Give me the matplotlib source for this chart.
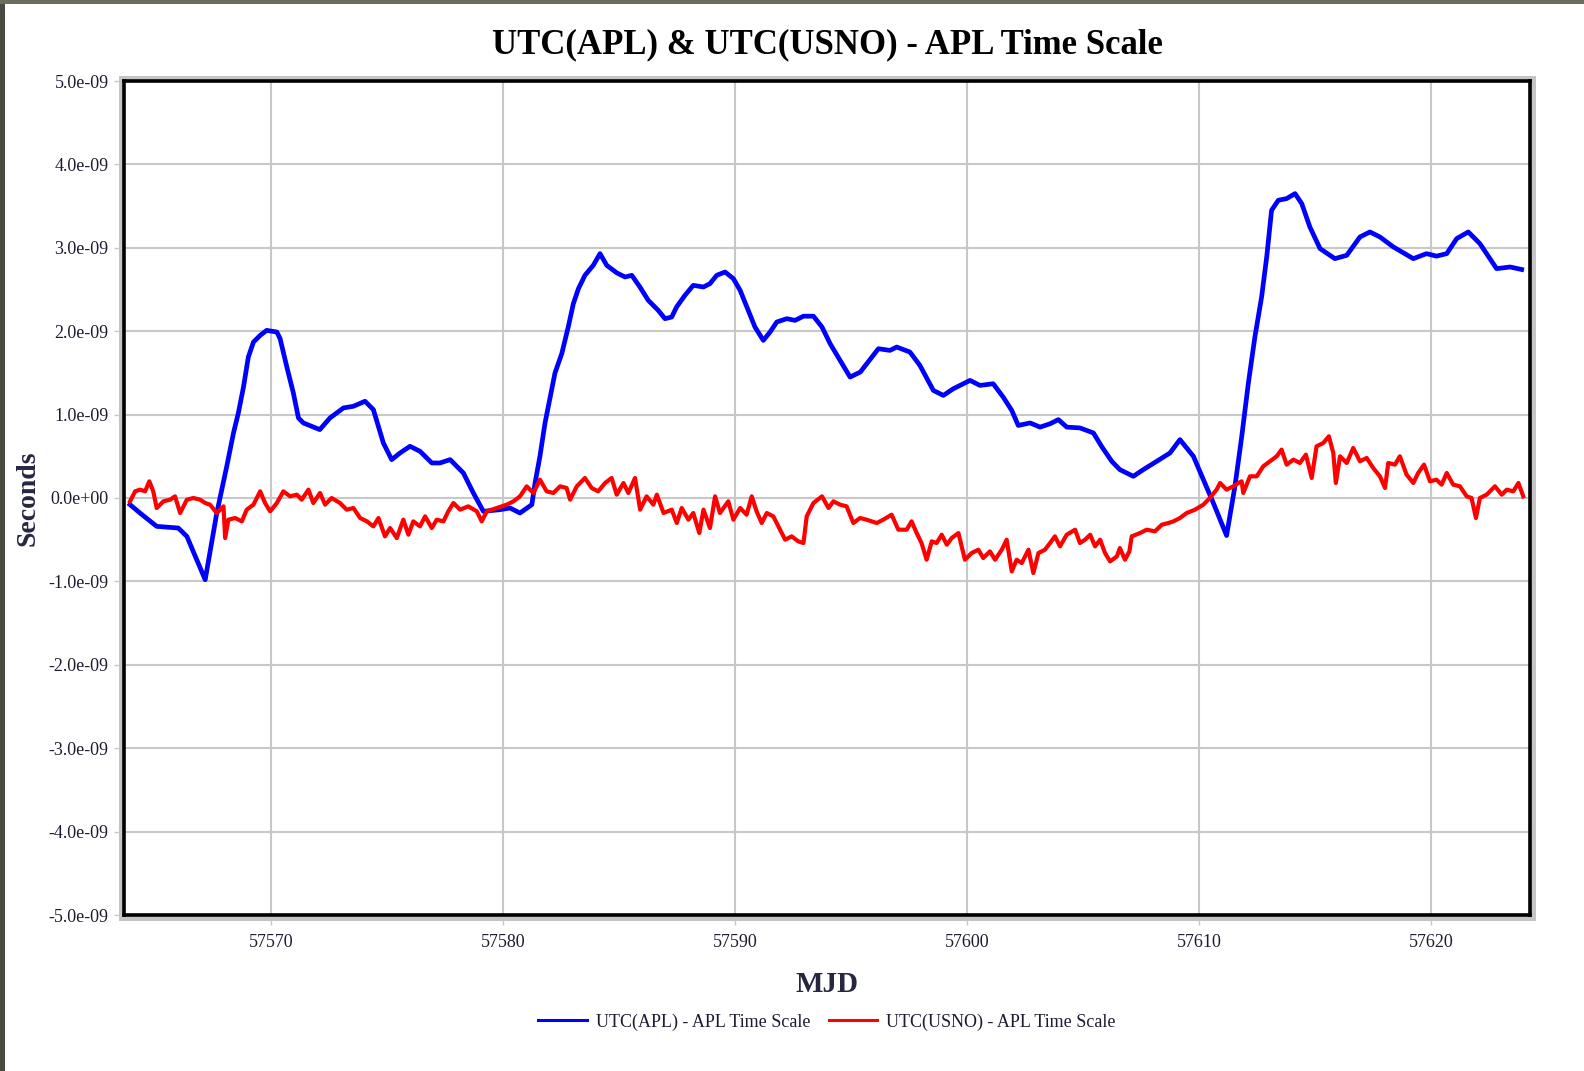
import numpy as np
import matplotlib
matplotlib.use('Agg')
import matplotlib.pyplot as plt
from matplotlib.patches import Rectangle
from matplotlib.ticker import FuncFormatter

## DATA (values in ns, x in MJD)
apl_mjd = [57563.92, 57564.35, 57565.07, 57566.0, 57566.37, 57567.16, 57567.66, 57568.09,
           57568.38, 57568.59, 57568.81, 57569.02, 57569.24, 57569.53, 57569.81, 57570.25,
           57570.39, 57570.68, 57570.96, 57571.18, 57571.39, 57572.1, 57572.54, 57573.12,
           57573.55, 57574.05, 57574.41, 57574.84, 57575.2, 57575.56, 57575.99, 57576.42,
           57576.93, 57577.28, 57577.72, 57578.29, 57578.72, 57579.15, 57579.87, 57580.3,
           57580.73, 57581.24, 57581.38, 57581.59, 57581.81, 57582.03, 57582.24, 57582.53,
           57582.81, 57583.03, 57583.25, 57583.53, 57583.89, 57584.18, 57584.47, 57584.9,
           57585.26, 57585.55, 57585.9, 57586.26, 57586.69, 57586.98, 57587.27, 57587.48,
           57587.84, 57588.2, 57588.64, 57588.92, 57589.21, 57589.57, 57589.93, 57590.22,
           57590.57, 57590.86, 57591.22, 57591.51, 57591.8, 57592.23, 57592.59, 57592.95,
           57593.38, 57593.75, 57594.1, 57594.53, 57594.96, 57595.4, 57595.68, 57596.18,
           57596.68, 57596.97, 57597.54, 57597.97, 57598.55, 57598.98, 57599.41, 57600.13,
           57600.56, 57601.13, 57601.56, 57601.93, 57602.21, 57602.72, 57603.15, 57603.58,
           57603.94, 57604.3, 57604.87, 57605.45, 57605.8, 57606.24, 57606.59, 57607.17,
           57607.6, 57608.18, 57608.75, 57609.18, 57609.76, 57610.19, 57610.62, 57611.19,
           57611.55, 57611.84, 57612.13, 57612.41, 57612.7, 57612.92, 57613.13, 57613.42,
           57613.78, 57614.14, 57614.43, 57614.78, 57615.22, 57615.86, 57616.37, 57616.94,
           57617.37, 57617.8, 57618.38, 57619.24, 57619.81, 57620.24, 57620.68, 57621.11,
           57621.61, 57622.11, 57622.83, 57623.41, 57623.91]
apl_ns = [-0.08, -0.18, -0.34, -0.36, -0.46, -0.98, -0.18, 0.38,
          0.78, 1.02, 1.33, 1.69, 1.87, 1.95, 2.01, 1.99,
          1.91, 1.57, 1.26, 0.96, 0.90, 0.82, 0.96, 1.08,
          1.10, 1.16, 1.06, 0.66, 0.46, 0.54, 0.62, 0.56,
          0.42, 0.42, 0.46, 0.30, 0.06, -0.16, -0.14, -0.12,
          -0.18, -0.08, 0.18, 0.50, 0.90, 1.21, 1.50, 1.73,
          2.05, 2.33, 2.51, 2.67, 2.79, 2.93, 2.79, 2.70,
          2.65, 2.67, 2.53, 2.37, 2.25, 2.15, 2.17, 2.29,
          2.43, 2.55, 2.53, 2.57, 2.67, 2.71, 2.63, 2.49,
          2.25, 2.05, 1.89, 1.99, 2.11, 2.15, 2.13, 2.18,
          2.18, 2.05, 1.85, 1.65, 1.45, 1.51, 1.61, 1.79,
          1.77, 1.81, 1.75, 1.59, 1.29, 1.23, 1.31, 1.41,
          1.35, 1.37, 1.21, 1.05, 0.87, 0.90, 0.85, 0.89,
          0.94, 0.85, 0.84, 0.78, 0.62, 0.44, 0.34, 0.26,
          0.34, 0.44, 0.54, 0.70, 0.50, 0.22, -0.06, -0.45,
          0.14, 0.73, 1.38, 1.93, 2.41, 2.89, 3.45, 3.57,
          3.59, 3.65, 3.53, 3.25, 2.99, 2.87, 2.91, 3.13,
          3.19, 3.13, 3.01, 2.87, 2.93, 2.90, 2.93, 3.11,
          3.19, 3.05, 2.75, 2.77, 2.74]

usno_mjd = [57563.92, 57564.14, 57564.35, 57564.57, 57564.75, 57564.92, 57565.07, 57565.36,
            57565.65, 57565.86, 57566.08, 57566.37, 57566.65, 57566.94, 57567.16, 57567.37,
            57567.66, 57567.95, 57568.02, 57568.16, 57568.45, 57568.74, 57568.95, 57569.24,
            57569.53, 57569.74, 57569.96, 57570.25, 57570.53, 57570.82, 57571.11, 57571.32,
            57571.61, 57571.82, 57572.11, 57572.33, 57572.61, 57572.97, 57573.26, 57573.55,
            57573.84, 57574.13, 57574.41, 57574.63, 57574.91, 57575.13, 57575.42, 57575.7,
            57575.92, 57576.13, 57576.42, 57576.64, 57576.93, 57577.14, 57577.43, 57577.64,
            57577.86, 57578.15, 57578.5, 57578.87, 57579.08, 57579.3, 57579.73, 57580.16,
            57580.45, 57580.73, 57581.02, 57581.31, 57581.59, 57581.88, 57582.17, 57582.46,
            57582.74, 57582.89, 57583.18, 57583.53, 57583.82, 57584.1, 57584.4, 57584.68,
            57584.9, 57585.19, 57585.4, 57585.69, 57585.91, 57586.19, 57586.48, 57586.63,
            57586.92, 57587.27, 57587.49, 57587.7, 57587.99, 57588.2, 57588.46, 57588.64,
            57588.92, 57589.14, 57589.35, 57589.71, 57589.93, 57590.22, 57590.5, 57590.72,
            57590.93, 57591.15, 57591.37, 57591.65, 57591.94, 57592.16, 57592.44, 57592.73,
            57592.95, 57593.09, 57593.38, 57593.75, 57594.03, 57594.24, 57594.53, 57594.81,
            57595.1, 57595.39, 57595.67, 57596.11, 57596.39, 57596.75, 57597.04, 57597.4,
            57597.61, 57597.83, 57598.04, 57598.26, 57598.48, 57598.69, 57598.91, 57599.13,
            57599.34, 57599.63, 57599.91, 57600.2, 57600.49, 57600.7, 57600.99, 57601.21,
            57601.5, 57601.71, 57601.93, 57602.14, 57602.36, 57602.65, 57602.86, 57603.08,
            57603.36, 57603.58, 57603.79, 57604.01, 57604.3, 57604.66, 57604.87, 57605.09,
            57605.31, 57605.52, 57605.74, 57605.95, 57606.17, 57606.46, 57606.59, 57606.81,
            57607.0, 57607.1, 57607.46, 57607.75, 57608.1, 57608.4, 57608.68, 57608.9,
            57609.18, 57609.47, 57609.83, 57610.19, 57610.47, 57610.76, 57610.91, 57611.19,
            57611.48, 57611.7, 57611.84, 57611.91, 57612.2, 57612.49, 57612.77, 57613.06,
            57613.35, 57613.56, 57613.78, 57614.07, 57614.35, 57614.61, 57614.86, 57615.07,
            57615.36, 57615.6, 57615.79, 57615.9, 57616.08, 57616.37, 57616.65, 57616.94,
            57617.23, 57617.51, 57617.8, 57618.02, 57618.16, 57618.45, 57618.66, 57618.95,
            57619.24, 57619.45, 57619.7, 57619.96, 57620.24, 57620.46, 57620.68, 57620.96,
            57621.25, 57621.54, 57621.75, 57621.94, 57622.11, 57622.4, 57622.76, 57623.05,
            57623.27, 57623.55, 57623.77, 57623.98]
usno_ns = [-0.04, 0.08, 0.10, 0.08, 0.20, 0.08, -0.12, -0.04,
           -0.02, 0.02, -0.18, -0.02, 0.00, -0.02, -0.06, -0.08,
           -0.18, -0.10, -0.48, -0.26, -0.24, -0.28, -0.14, -0.08,
           0.08, -0.06, -0.16, -0.06, 0.08, 0.02, 0.04, -0.02,
           0.10, -0.06, 0.06, -0.08, 0.00, -0.06, -0.14, -0.12,
           -0.24, -0.28, -0.34, -0.24, -0.46, -0.36, -0.48, -0.26,
           -0.44, -0.28, -0.34, -0.22, -0.36, -0.26, -0.28, -0.16,
           -0.06, -0.14, -0.10, -0.16, -0.28, -0.16, -0.12, -0.08,
           -0.04, 0.02, 0.14, 0.06, 0.22, 0.08, 0.06, 0.14,
           0.12, -0.02, 0.14, 0.24, 0.12, 0.08, 0.18, 0.24,
           0.04, 0.18, 0.06, 0.24, -0.14, 0.02, -0.08, 0.04,
           -0.18, -0.14, -0.30, -0.12, -0.26, -0.18, -0.42, -0.14,
           -0.36, 0.02, -0.18, -0.04, -0.26, -0.12, -0.20, 0.02,
           -0.16, -0.30, -0.18, -0.22, -0.38, -0.50, -0.46, -0.52,
           -0.54, -0.22, -0.06, 0.02, -0.12, -0.04, -0.08, -0.10,
           -0.30, -0.24, -0.26, -0.30, -0.26, -0.20, -0.38, -0.38,
           -0.28, -0.42, -0.54, -0.74, -0.52, -0.54, -0.44, -0.56,
           -0.48, -0.42, -0.74, -0.66, -0.62, -0.72, -0.64, -0.74,
           -0.62, -0.50, -0.88, -0.74, -0.78, -0.62, -0.90, -0.66,
           -0.62, -0.54, -0.46, -0.58, -0.44, -0.38, -0.54, -0.50,
           -0.44, -0.58, -0.50, -0.66, -0.76, -0.70, -0.60, -0.74,
           -0.64, -0.46, -0.42, -0.38, -0.40, -0.32, -0.30, -0.28,
           -0.24, -0.18, -0.14, -0.08, 0.00, 0.10, 0.18, 0.10,
           0.14, 0.18, 0.20, 0.06, 0.26, 0.26, 0.38, 0.44,
           0.50, 0.58, 0.40, 0.46, 0.42, 0.52, 0.24, 0.62,
           0.66, 0.74, 0.54, 0.18, 0.50, 0.42, 0.60, 0.44,
           0.48, 0.36, 0.26, 0.12, 0.42, 0.40, 0.50, 0.28,
           0.18, 0.30, 0.40, 0.20, 0.22, 0.16, 0.30, 0.16,
           0.14, 0.02, 0.00, -0.24, 0.00, 0.04, 0.14, 0.04,
           0.10, 0.08, 0.18, 0.02]

y_ticks_ns = [-5, -4, -3, -2, -1, 0, 1, 2, 3, 4, 5]
x_ticks = [57570, 57580, 57590, 57600, 57610, 57620]

## FIGURE
W, H = 1584, 1071
fig = plt.figure(figsize=(W / 100, H / 100), dpi=100)
fig.patch.set_facecolor('white')

# axes box in pixels: left 124, right 1530, top 81, bottom 915
L, R, T, B = 124, 1530, 81, 915
ax = fig.add_axes([L / W, 1 - B / H, (R - L) / W, (B - T) / H])
ax.set_zorder(2)

# gray frame behind the black border
fig.patches.append(Rectangle(((L - 5) / W, 1 - (B + 6) / H), (R - L + 11) / W, (B - T + 11) / H,
                             transform=fig.transFigure, facecolor='#c4c4c4', edgecolor='none', zorder=0))
# dark strips at the left and top of the screenshot
fig.patches.append(Rectangle((0, 0), 5 / W, 1, transform=fig.transFigure,
                             facecolor='#4a4a40', edgecolor='none', zorder=0))
fig.patches.append(Rectangle((0, 1 - 4 / H), 1, 4 / H, transform=fig.transFigure,
                             facecolor='#6c6c5c', edgecolor='none', zorder=0))

ax.set_facecolor('white')
ax.plot(np.array(apl_mjd), np.array(apl_ns) * 1e-9, color='#0000ff', lw=3.4,
        label='UTC(APL) - APL Time Scale', zorder=3)
ax.plot(np.array(usno_mjd), np.array(usno_ns) * 1e-9, color='#ff0000', lw=3.0,
        label='UTC(USNO) - APL Time Scale', zorder=4)

ax.set_xlim(57563.66, 57624.27)
ax.set_ylim(-5e-9, 5e-9)
ax.set_xticks(x_ticks)
ax.set_yticks([v * 1e-9 for v in y_ticks_ns])
ax.yaxis.set_major_formatter(FuncFormatter(lambda v, p: f'{v:.1e}'))
ax.grid(True, color='#c8c8c8', lw=1.5, zorder=1)
ax.set_axisbelow(True)

for s in ax.spines.values():
    s.set_linewidth(2.6)
    s.set_color('black')

serif = ['Liberation Serif', 'DejaVu Serif']
ax.tick_params(axis='both', colors='#c8c8c8', length=7, width=1, labelcolor='#1c1c30',
               labelsize=13)
ax.tick_params(axis='x', pad=7)
ax.tick_params(axis='y', pad=4)
for lab in ax.get_xticklabels() + ax.get_yticklabels():
    lab.set_family(serif)

ax.set_title('UTC(APL) & UTC(USNO) - APL Time Scale', family=serif, fontweight='bold',
             fontsize=25, color='black', pad=20)
ax.set_xlabel('MJD', family=serif, fontweight='bold', fontsize=21, color='#262640', labelpad=14)
ax.set_ylabel('Seconds', family=serif, fontweight='bold', fontsize=20, color='#262640')
ax.yaxis.set_label_coords(-(L - 40) / (R - L), 0.5)

leg = fig.legend(loc='center', bbox_to_anchor=((L + R) / 2 / W, 1 - 1022 / H), ncol=2,
                 frameon=False, prop={'family': serif, 'size': 13}, handlelength=2.7,
                 handletextpad=0.5, columnspacing=1.0)
for line in leg.get_lines():
    line.set_linewidth(2.2)
for t in leg.get_texts():
    t.set_color('#1c1c30')

fig.savefig('out.png', dpi=100)
